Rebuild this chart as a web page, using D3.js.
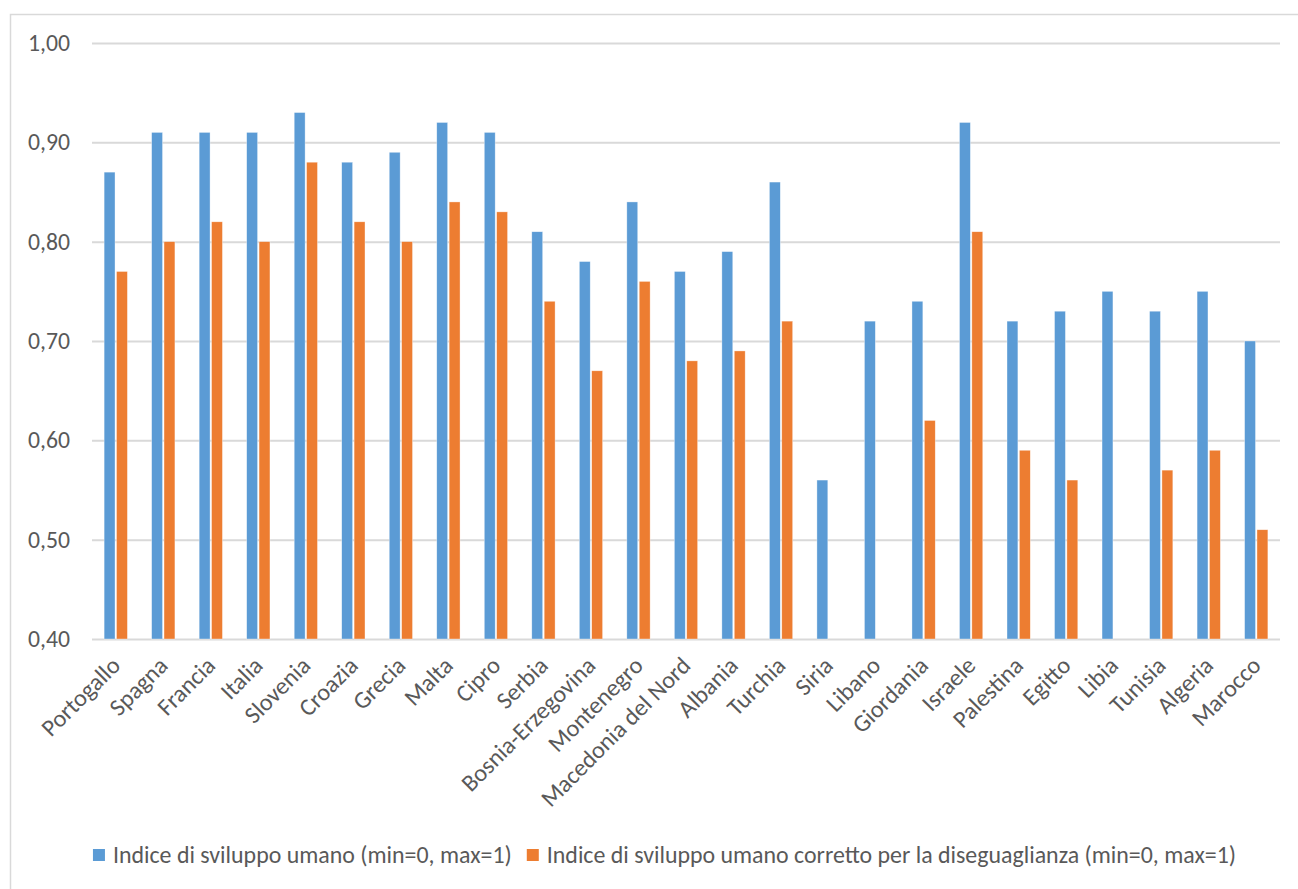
<!DOCTYPE html>
<html>
<head>
<meta charset="utf-8">
<script src="https://cdn.jsdelivr.net/npm/d3@7"></script>
<style>
  html, body { margin: 0; padding: 0; background: #fff; }
  svg { display: block; }
  text { font-family: Carlito, Calibri, Lato, "Open Sans", sans-serif; fill: #595959; }
</style>
</head>
<body>
<svg id="chart" width="1298" height="889"></svg>
<script>
// ---- data ----
const categories = ["Portogallo","Spagna","Francia","Italia","Slovenia","Croazia","Grecia","Malta","Cipro","Serbia","Bosnia-Erzegovina","Montenegro","Macedonia del Nord","Albania","Turchia","Siria","Libano","Giordania","Israele","Palestina","Egitto","Libia","Tunisia","Algeria","Marocco"];
const hdi  = [0.87,0.91,0.91,0.91,0.93,0.88,0.89,0.92,0.91,0.81,0.78,0.84,0.77,0.79,0.86,0.56,0.72,0.74,0.92,0.72,0.73,0.75,0.73,0.75,0.70];
const ihdi = [0.77,0.80,0.82,0.80,0.88,0.82,0.80,0.84,0.83,0.74,0.67,0.76,0.68,0.69,0.72,null,null,0.62,0.81,0.59,0.56,null,0.57,0.59,0.51];
const seriesNames = ["Indice di sviluppo umano (min=0, max=1)", "Indice di sviluppo umano corretto per la diseguaglianza (min=0, max=1)"];
const seriesColors = ["#5b9bd5", "#ed7d31"];
const yTicks = [0.40,0.50,0.60,0.70,0.80,0.90,1.00];

// ---- layout ----
const svg = d3.select("#chart");
const pLeft = 92, pRight = 1280, pTop = 43, pBottom = 639;

svg.append("rect").attr("x", 10.5).attr("y", 14.5).attr("width", 1400).attr("height", 1000)
  .attr("fill", "#fff").attr("stroke", "#d9d9d9").attr("stroke-width", 1.5);

const x = d3.scaleBand().domain(categories).range([pLeft, pRight]).paddingInner(0.51).paddingOuter(0.255);
const xs = d3.scaleBand().domain([0,1]).range([0, x.bandwidth()]).paddingInner(0.12);
const y = d3.scaleLinear().domain([0.40, 1.00]).range([pBottom, pTop]);

const fmt = v => d3.format(".2f")(v).replace(".", ",");

function fitSize(sel, text, targetW) {
  const t = sel.append("text").attr("font-size", 100).text(text);
  const w = t.node().getComputedTextLength();
  t.remove();
  return 100 * targetW / w;
}

// gridlines + y labels
const yAxis = d3.axisLeft(y).tickValues(yTicks).tickSize(-(pRight - pLeft)).tickFormat(fmt).tickPadding(22);
const gy = svg.append("g").attr("transform", `translate(${pLeft},0)`).call(yAxis);
gy.select(".domain").remove();
gy.selectAll(".tick line").attr("stroke", "#d9d9d9").attr("stroke-width", 2);
const ySize = fitSize(svg, "1,00", 42);
gy.selectAll(".tick text").attr("font-size", ySize).attr("fill", "#595959")
  .style("font-family", "Carlito, Calibri, Lato, 'Open Sans', sans-serif");

// bars
const seriesData = [hdi, ihdi];
seriesData.forEach((vals, si) => {
  svg.append("g").selectAll("rect")
    .data(categories.map((c, i) => ({ c, v: vals[i] })).filter(d => d.v != null))
    .join("rect")
    .attr("x", d => x(d.c) + xs(si))
    .attr("width", xs.bandwidth())
    .attr("y", d => y(d.v))
    .attr("height", d => y(0.40) - y(d.v))
    .attr("fill", seriesColors[si])
    .attr("stroke", "#ffffff").attr("stroke-width", 0.6).attr("stroke-opacity", 0.6);
});

// x labels
const xSize = fitSize(svg, "Macedonia del Nord", 200);
const gx = svg.append("g");
gx.selectAll("text").data(categories).join("text")
  .attr("text-anchor", "end")
  .attr("font-size", xSize)
  .attr("transform", d => `translate(${x(d) + x.bandwidth() / 2},${pBottom + 22}) rotate(-45)`)
  .attr("dy", "0.35em")
  .text(d => d);

// legend
const legSize = fitSize(svg, seriesNames[0], 399);
const leg = svg.append("g");
const legY = 855;
const items = [];
seriesNames.forEach((n, i) => {
  const g = leg.append("g");
  g.append("rect").attr("x", 0).attr("y", -6).attr("width", 12).attr("height", 12).attr("fill", seriesColors[i]);
  const t = g.append("text").attr("x", 20).attr("y", 0).attr("dy", "0.35em").attr("font-size", legSize).text(n);
  const w = 20 + t.node().getComputedTextLength();
  items.push({ g, w });
});
const gapLeg = 15;
const totalW = items[0].w + gapLeg + items[1].w;
let startX = 664.5 - totalW / 2;
items.forEach(it => {
  it.g.attr("transform", `translate(${startX},${legY})`);
  startX += it.w + gapLeg;
});
</script>
</body>
</html>
